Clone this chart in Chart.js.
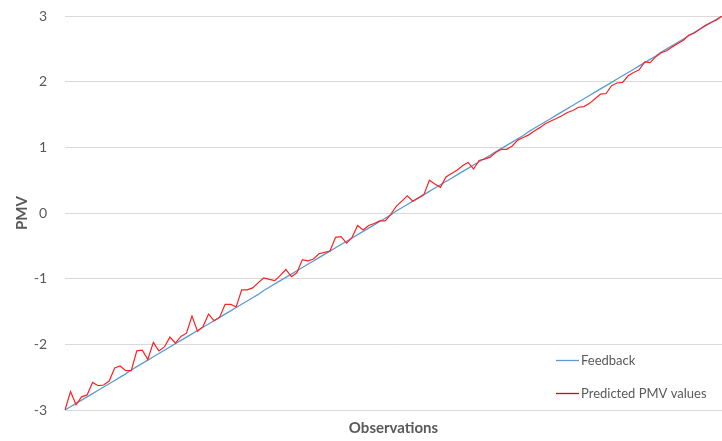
<!DOCTYPE html>
<html>
<head>
<meta charset="utf-8">
<script src="https://cdn.jsdelivr.net/npm/chart.js@4/dist/chart.umd.min.js"></script>
<style>
  html, body { margin: 0; padding: 0; background: #fff; }
  #wrap { width: 722px; height: 441px; }
</style>
</head>
<body>
<div id="wrap"><canvas id="myChart" width="722" height="441"></canvas></div>
<script>
// observations 1..120, no tick labels shown on the x axis
const observations = [];
for (let i = 1; i <= 120; i++) observations.push(i);

const yTicks = [-3, -2, -1, 0, 1, 2, 3];

// feedback (sorted)
const feedback = [
  -3.00, -2.95, -2.90, -2.85, -2.80, -2.75, -2.70, -2.65, -2.60, -2.55,
  -2.50, -2.45, -2.39, -2.34, -2.29, -2.24, -2.19, -2.14, -2.09, -2.04,
  -1.99, -1.94, -1.89, -1.84, -1.79, -1.74, -1.69, -1.64, -1.59, -1.54,
  -1.49, -1.44, -1.39, -1.34, -1.29, -1.24, -1.18, -1.13, -1.08, -1.03,
  -0.98, -0.93, -0.88, -0.83, -0.78, -0.73, -0.68, -0.63, -0.58, -0.53,
  -0.48, -0.43, -0.38, -0.33, -0.28, -0.23, -0.18, -0.13, -0.08, -0.03,
   0.03,  0.08,  0.13,  0.18,  0.23,  0.28,  0.33,  0.38,  0.43,  0.48,
   0.53,  0.58,  0.63,  0.68,  0.73,  0.78,  0.83,  0.88,  0.93,  0.98,
   1.03,  1.08,  1.13,  1.18,  1.24,  1.29,  1.34,  1.39,  1.44,  1.49,
   1.54,  1.59,  1.64,  1.69,  1.74,  1.79,  1.84,  1.89,  1.94,  1.99,
   2.04,  2.09,  2.14,  2.19,  2.24,  2.29,  2.34,  2.39,  2.45,  2.50,
   2.55,  2.60,  2.65,  2.70,  2.75,  2.80,  2.85,  2.90,  2.95,  3.00
];

// predicted PMV
const predicted = [
  -3.00, -2.72, -2.92, -2.80, -2.77, -2.58, -2.63, -2.62, -2.56, -2.36,
  -2.33, -2.40, -2.40, -2.10, -2.09, -2.23, -1.97, -2.10, -2.04, -1.89,
  -1.98, -1.88, -1.83, -1.57, -1.80, -1.73, -1.54, -1.64, -1.59, -1.39,
  -1.39, -1.43, -1.17, -1.17, -1.14, -1.06, -0.99, -1.01, -1.03, -0.95,
  -0.86, -0.97, -0.91, -0.71, -0.73, -0.70, -0.62, -0.60, -0.58, -0.37,
  -0.36, -0.46, -0.37, -0.19, -0.26, -0.19, -0.16, -0.12, -0.12, -0.02,
   0.10,  0.18,  0.26,  0.18,  0.23,  0.28,  0.50,  0.44,  0.39,  0.55,
   0.60,  0.65,  0.72,  0.77,  0.67,  0.80,  0.82,  0.85,  0.92,  0.97,
   0.97,  1.02,  1.11,  1.15,  1.19,  1.25,  1.30,  1.36,  1.40,  1.44,
   1.48,  1.53,  1.56,  1.61,  1.62,  1.67,  1.74,  1.81,  1.82,  1.94,
   1.98,  1.99,  2.09,  2.14,  2.18,  2.30,  2.29,  2.38,  2.44,  2.47,
   2.53,  2.58,  2.63,  2.71,  2.74,  2.80,  2.86,  2.90,  2.94,  3.00
];

const grey = '#595959';
const fontName = 'Lato, "Open Sans", sans-serif';

// legend drawn inside the plot area, bottom right
const innerLegend = {
  id: 'innerLegend',
  afterDraw(chart) {
    const ctx = chart.ctx;
    const a = chart.chartArea;
    const rows = [a.bottom - 50, a.bottom - 17];
    ctx.save();
    ctx.font = '13px ' + fontName;
    ctx.textBaseline = 'middle';
    ctx.textAlign = 'left';
    chart.data.datasets.forEach(function(ds, i) {
      const y = rows[i] + 0.5;
      ctx.strokeStyle = ds.legendColor;
      ctx.lineWidth = 1.3;
      ctx.beginPath();
      ctx.moveTo(a.right - 166, y);
      ctx.lineTo(a.right - 143, y);
      ctx.stroke();
      ctx.fillStyle = grey;
      ctx.fillText(ds.label, a.right - 141, y);
    });
    ctx.restore();
  }
};

const data = {
  labels: observations,
  datasets: [
    {
      label: 'Feedback',
      data: feedback,
      borderColor: '#5B9BD5',
      legendColor: '#5B9BD5',
      borderWidth: 1.3,
      pointRadius: 0,
      tension: 0,
      order: 2
    },
    {
      label: 'Predicted PMV values',
      data: predicted,
      borderColor: '#FF2020',
      legendColor: '#E00000',
      borderWidth: 1.2,
      pointRadius: 0,
      tension: 0,
      order: 1
    }
  ]
};

const config = {
  type: 'line',
  data,
  plugins: [innerLegend],
  options: {
    responsive: false,
    animation: false,
    layout: { padding: { top: 16, right: 0, bottom: 0, left: 0 } },
    plugins: {
      legend: { display: false },
      tooltip: { enabled: false }
    },
    scales: {
      x: {
        type: 'category',
        offset: false,
        grid: { display: false, drawTicks: false },
        border: { display: false },
        ticks: { display: false },
        title: {
          display: true,
          text: 'Observations',
          color: grey,
          font: { family: fontName, size: 15, weight: 'bold' },
          padding: { top: 0, bottom: 4 }
        },
        afterFit: function(s) { s.height = 31; s.paddingLeft = 0; s.paddingRight = 0; }
      },
      y: {
        min: -3,
        max: 3,
        afterBuildTicks: function(s) { s.ticks = yTicks.map(v => ({ value: v })); },
        grid: { color: '#D9D9D9', lineWidth: 1, drawTicks: false },
        border: { display: false },
        ticks: {
          color: grey,
          padding: 18,
          font: { family: fontName, size: 14 }
        },
        title: {
          display: true,
          text: 'PMV',
          color: grey,
          font: { family: fontName, size: 15, weight: 'bold' },
          padding: { top: 13, bottom: 0 }
        },
        afterFit: function(s) { s.width = 65; s.paddingTop = 0; s.paddingBottom = 0; }
      }
    }
  }
};

const myChart = new Chart(document.getElementById('myChart'), config);
</script>
</body>
</html>
